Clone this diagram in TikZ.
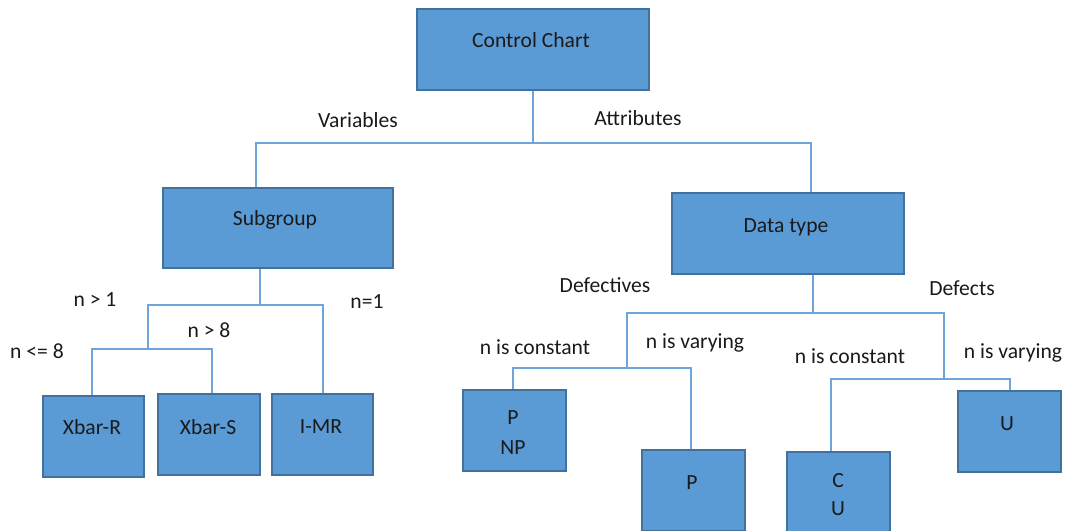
\documentclass[tikz,border=0pt]{standalone}
\usepackage{fontspec}
\setmainfont{Carlito}
\definecolor{boxfill}{HTML}{5B9BD5}
\definecolor{boxline}{HTML}{41719C}
\definecolor{conn}{HTML}{6EA6DC}
\definecolor{txt}{HTML}{1A1A1A}
\tikzset{
  box/.style={draw=boxline, line width=1.3pt, fill=boxfill, inner sep=0pt},
  lbl/.style={text=txt, font=\fontsize{21.6}{25}\selectfont, inner sep=0pt},
  wire/.style={draw=conn, line width=1.2pt}
}
\begin{document}
\begin{tikzpicture}[x=1pt,y=-1pt]
\useasboundingbox (0,0) rectangle (1067,530);
% boxes
\node[box, minimum width=232pt, minimum height=81pt] (cc) at (533,49.5) {};
\node[box, minimum width=230pt, minimum height=80pt] (sub) at (278,228) {};
\node[box, minimum width=232pt, minimum height=81pt] (dt) at (788,233.5) {};
\node[box, minimum width=101pt, minimum height=81pt] (xr) at (93.5,436.5) {};
\node[box, minimum width=102pt, minimum height=81pt] (xs) at (209,434.5) {};
\node[box, minimum width=101pt, minimum height=81pt] (imr) at (322.5,434.5) {};
\node[box, minimum width=103pt, minimum height=81pt] (pnp) at (514.5,430.5) {};
\node[box, minimum width=103pt, minimum height=81pt] (p) at (693.5,490.5) {};
\node[box, minimum width=103pt, minimum height=81pt] (cu) at (838.5,492.5) {};
\node[box, minimum width=103pt, minimum height=81pt] (u) at (1009.5,431.5) {};
% box texts
\node[lbl] (tcc) at (531,40) {Control Chart};
\node[lbl] (tsub) at (275,220) {Subgroup};
\node[lbl] (tdt) at (786,227) {Data type};
\node[lbl] (txr) at (92,427) {Xbar-R};
\node[lbl] (txs) at (208,427) {Xbar-S};
\node[lbl] (timr) at (321,427) {I-MR};
\node[lbl] (tp1) at (513,418) {P};
\node[lbl] (tnp) at (513,448) {NP};
\node[lbl] (tp2) at (692,483) {P};
\node[lbl] (tc) at (838,481) {C};
\node[lbl] (tu1) at (838,509) {U};
\node[lbl] (tu2) at (1007,424) {U};
% branch labels
\node[lbl] (lvar) at (358,120) {Variables};
\node[lbl] (latt) at (638,118) {Attributes};
\node[lbl] (lg1) at (95,300) {n > 1};
\node[lbl] (le1) at (367,302) {n=1};
\node[lbl] (lg8) at (209,330) {n > 8};
\node[lbl] (lle8) at (37,351) {n <= 8};
\node[lbl] (ldefv) at (605,285) {Defectives};
\node[lbl] (ldef) at (962,288) {Defects};
\node[lbl] (lc1) at (535,347) {n is constant};
\node[lbl] (lv1) at (695,343) {n is varying};
\node[lbl] (lc2) at (850,356) {n is constant};
\node[lbl] (lv2) at (1013,353) {n is varying};
% junction coordinates
\coordinate (j1) at (533,143);
\coordinate (j2) at (260,305);
\coordinate (j3) at (148,349);
\coordinate (j4) at (813,313);
\coordinate (j5) at (627,368);
\coordinate (j6) at (944,379);
% connectors
\draw[wire] (cc.south) -- (j1);
\draw[wire] (j1) -| (sub.north -| 256,0);
\draw[wire] (j1) -| (dt.north -| 811,0);
\draw[wire] (sub.south -| j2) -- (j2);
\draw[wire] (j2) -| (imr.north -| 323,0);
\draw[wire] (j2) -| (j3);
\draw[wire] (j3) -| (xr.north -| 92,0);
\draw[wire] (j3) -| (xs.north -| 212,0);
\draw[wire] (dt.south -| j4) -- (j4);
\draw[wire] (j4) -| (j5);
\draw[wire] (j4) -| (j6);
\draw[wire] (j5) -| (pnp.north -| 513,0);
\draw[wire] (j5) -| (p.north -| 691,0);
\draw[wire] (j6) -| (cu.north -| 831,0);
\draw[wire] (j6) -| (u.north -| 1010,0);
\end{tikzpicture}
\end{document}
